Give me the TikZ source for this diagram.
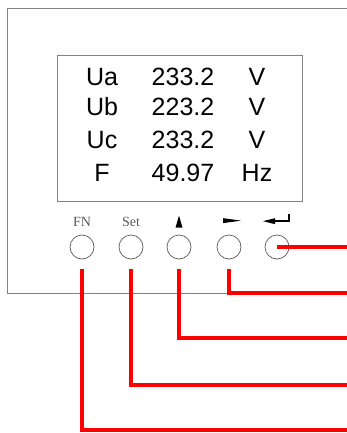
\documentclass[tikz,border=0pt]{standalone}
\usepackage{fontspec}
\setmainfont{Liberation Sans}
\newfontfamily\keyfont{Liberation Serif}
\usetikzlibrary{positioning}
\definecolor{frameGray}{RGB}{130,130,130}
\definecolor{keyGray}{RGB}{90,90,90}
\definecolor{wireRed}{RGB}{255,0,0}

\begin{document}
\begin{tikzpicture}[
  x=1pt, y=-1pt,
  panel/.style={draw=frameGray, line width=0.9pt},
  readout/.style={font=\fontsize{25}{25}\selectfont, anchor=base, inner sep=0pt},
  key/.style={circle, draw=keyGray, line width=0.7pt, minimum size=24pt, inner sep=0pt},
  keylabel/.style={font=\keyfont\fontsize{14}{14}\selectfont, inner sep=0pt, text=keyGray},
  wire/.style={draw=wireRed, line width=4.6pt}
]
  \useasboundingbox (0,0) rectangle (347,433);

  % housing and display
  \draw[panel] (347,8) -- (7,8) -- (7,293) -- (347,293);
  \node[panel, minimum width=245pt, minimum height=146pt, anchor=north west] (display) at (57,55) {};

  \node[readout] (uaName) at (102,85) {Ua};
  \node[readout] (uaValue) at (183,85) {233.2};
  \node[readout] (uaUnit) at (257,85) {V};
  \node[readout] (ubName) at (102,116) {Ub};
  \node[readout] (ubValue) at (183,116) {223.2};
  \node[readout] (ubUnit) at (257,116) {V};
  \node[readout] (ucName) at (102,148) {Uc};
  \node[readout] (ucValue) at (183,148) {233.2};
  \node[readout] (ucUnit) at (257,148) {V};
  \node[readout] (fName) at (102,181) {F};
  \node[readout] (fValue) at (183,181) {49.97};
  \node[readout] (fUnit) at (257,181) {Hz};

  % keys
  \node[key] (fnKey) at (82,247) {};
  \node[key] (setKey) at (131,247) {};
  \node[key] (upKey) at (179,247) {};
  \node[key] (rightKey) at (229,247) {};
  \node[key] (enterKey) at (277,247) {};

  \node[keylabel, above=8pt of fnKey] (fnLabel) {FN};
  \node[keylabel, above=8pt of setKey] (setLabel) {Set};
  \fill[shift={(upKey.north)}] (0,-19) -- (-3.5,-7) -- (3.5,-7) -- cycle;
  \fill[shift={(rightKey.north)}] (12,-14) -- (-6,-11.5) -- (-6,-16.5) -- cycle;
  \fill[shift={(enterKey.north)}] (-14,-13.5) -- (-2,-10.5) -- (-2,-16.5) -- cycle;
  \draw[line width=2pt, shift={(enterKey.north)}] (-3,-13.5) -- (12,-13.5) -- (12,-21);

  % wires
  \coordinate[below=10pt of fnKey] (fnTop);
  \coordinate[below=10pt of setKey] (setTop);
  \coordinate[below=10pt of upKey] (upTop);
  \coordinate[below=10pt of rightKey] (rightTop);
  \coordinate (enterEnd) at (347,247);
  \coordinate (rightEnd) at (347,293);
  \coordinate (upEnd) at (347,338);
  \coordinate (setEnd) at (347,385);
  \coordinate (fnEnd) at (347,430);

  \draw[wire] (enterKey.center) -- (enterEnd);
  \draw[wire] (rightTop) |- (rightEnd);
  \draw[wire] (upTop) |- (upEnd);
  \draw[wire] (setTop) |- (setEnd);
  \draw[wire] (fnTop) |- (fnEnd);
\end{tikzpicture}
\end{document}
